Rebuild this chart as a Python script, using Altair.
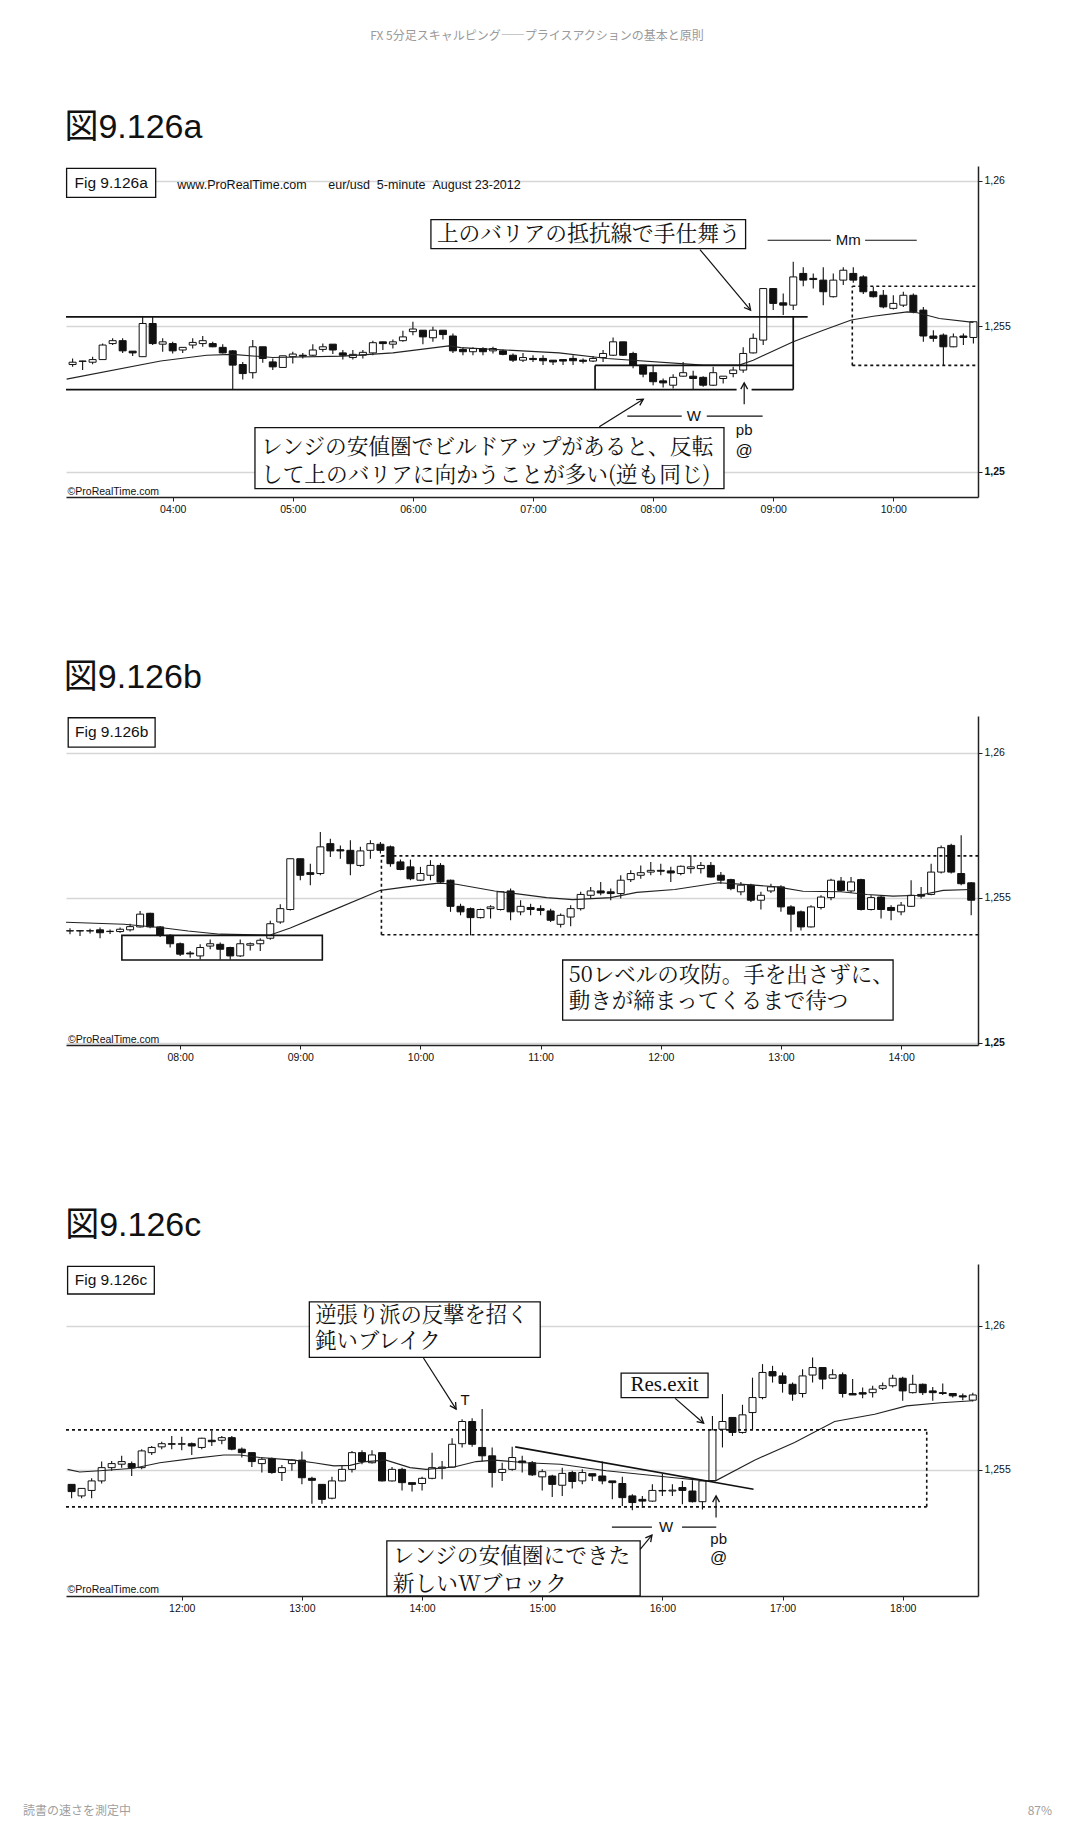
import altair as alt
import pandas as pd

INK = "#111111"
SANS = "Liberation Sans, Arial, Noto Sans CJK JP"
JP = "Noto Serif CJK JP, Noto Sans CJK JP"
SERIF = "Liberation Serif, DejaVu Serif"

HEADER = "FX 5分足スキャルピング――プライスアクションの基本と原則"
FOOTER_LEFT = "読書の速さを測定中"
FOOTER_RIGHT = "87%"

# ---------------- panel a : 03:10 - 10:40 ----------------
a_time = list(range(190, 645, 5))
a_open = [1.25368, 1.25380, 1.25376, 1.25385, 1.25440, 1.25450, 1.25414, 1.25395, 1.25509, 1.25438,
          1.25440, 1.25418, 1.25435, 1.25440, 1.25440, 1.25427, 1.25415, 1.25368, 1.25340, 1.25429,
          1.25377, 1.25358, 1.25395, 1.25400, 1.25400, 1.25420, 1.25438, 1.25408, 1.25392, 1.25400,
          1.25408, 1.25446, 1.25438, 1.25450, 1.25481, 1.25486, 1.25460, 1.25486, 1.25466, 1.25420,
          1.25412, 1.25423, 1.25415, 1.25415, 1.25400, 1.25383, 1.25389, 1.25389, 1.25383, 1.25385,
          1.25389, 1.25383, 1.25380, 1.25392, 1.25400, 1.25446, 1.25406, 1.25366, 1.25340, 1.25312,
          1.25297, 1.25328, 1.25328, 1.25324, 1.25297, 1.25320, 1.25337, 1.25349, 1.25408, 1.25452,
          1.25629, 1.25580, 1.25572, 1.25681, 1.25664, 1.25658, 1.25601, 1.25658, 1.25681, 1.25669,
          1.25618, 1.25606, 1.25561, 1.25572, 1.25606, 1.25555, 1.25466, 1.25469, 1.25429, 1.25466,
          1.25461]
a_high = [1.25389, 1.25381, 1.25395, 1.25440, 1.25458, 1.25458, 1.25414, 1.25532, 1.25532, 1.25458,
          1.25446, 1.25427, 1.25458, 1.25466, 1.25446, 1.25438, 1.25418, 1.25377, 1.25452, 1.25429,
          1.25389, 1.25398, 1.25412, 1.25408, 1.25438, 1.25440, 1.25438, 1.25418, 1.25418, 1.25418,
          1.25450, 1.25446, 1.25454, 1.25484, 1.25515, 1.25486, 1.25498, 1.25486, 1.25475, 1.25427,
          1.25427, 1.25427, 1.25429, 1.25420, 1.25406, 1.25408, 1.25400, 1.25400, 1.25383, 1.25385,
          1.25400, 1.25389, 1.25397, 1.25418, 1.25461, 1.25446, 1.25412, 1.25366, 1.25366, 1.25320,
          1.25335, 1.25377, 1.25347, 1.25328, 1.25360, 1.25328, 1.25360, 1.25427, 1.25475, 1.25629,
          1.25629, 1.25612, 1.25721, 1.25702, 1.25681, 1.25702, 1.25681, 1.25702, 1.25702, 1.25675,
          1.25635, 1.25624, 1.25606, 1.25618, 1.25612, 1.25566, 1.25486, 1.25475, 1.25475, 1.25475,
          1.25515]
a_low = [1.25360, 1.25349, 1.25369, 1.25385, 1.25435, 1.25408, 1.25397, 1.25395, 1.25435, 1.25412,
         1.25406, 1.25408, 1.25423, 1.25429, 1.25427, 1.25406, 1.25282, 1.25317, 1.25320, 1.25374,
         1.25349, 1.25358, 1.25372, 1.25389, 1.25397, 1.25412, 1.25404, 1.25385, 1.25385, 1.25389,
         1.25400, 1.25418, 1.25423, 1.25446, 1.25469, 1.25438, 1.25446, 1.25454, 1.25408, 1.25400,
         1.25400, 1.25400, 1.25406, 1.25400, 1.25377, 1.25377, 1.25377, 1.25366, 1.25366, 1.25366,
         1.25366, 1.25372, 1.25377, 1.25377, 1.25397, 1.25397, 1.25355, 1.25324, 1.25297, 1.25289,
         1.25286, 1.25326, 1.25282, 1.25292, 1.25294, 1.25303, 1.25324, 1.25340, 1.25406, 1.25435,
         1.25555, 1.25538, 1.25555, 1.25637, 1.25629, 1.25572, 1.25598, 1.25641, 1.25649, 1.25610,
         1.25598, 1.25561, 1.25557, 1.25566, 1.25544, 1.25446, 1.25446, 1.25366, 1.25427, 1.25435,
         1.25440]
a_close = [1.25376, 1.25379, 1.25385, 1.25435, 1.25450, 1.25415, 1.25408, 1.25509, 1.25440, 1.25446,
           1.25415, 1.25427, 1.25444, 1.25450, 1.25429, 1.25408, 1.25366, 1.25337, 1.25429, 1.25389,
           1.25360, 1.25398, 1.25404, 1.25397, 1.25418, 1.25429, 1.25418, 1.25400, 1.25403, 1.25410,
           1.25443, 1.25440, 1.25446, 1.25463, 1.25490, 1.25463, 1.25486, 1.25471, 1.25415, 1.25412,
           1.25423, 1.25412, 1.25423, 1.25403, 1.25383, 1.25392, 1.25385, 1.25381, 1.25377, 1.25380,
           1.25381, 1.25379, 1.25389, 1.25406, 1.25446, 1.25400, 1.25366, 1.25335, 1.25309, 1.25305,
           1.25324, 1.25340, 1.25320, 1.25297, 1.25340, 1.25328, 1.25349, 1.25406, 1.25458, 1.25629,
           1.25578, 1.25572, 1.25669, 1.25658, 1.25660, 1.25618, 1.25658, 1.25692, 1.25658, 1.25618,
           1.25601, 1.25566, 1.25578, 1.25606, 1.25549, 1.25466, 1.25458, 1.25429, 1.25463, 1.25461,
           1.25515]
a_ma_t = [187, 234, 257, 270, 290, 325, 350, 378, 384, 433, 457, 505, 523, 530, 550, 565, 579, 590,
          607, 612, 623, 640]
a_ma_v = [1.25318, 1.25380, 1.25400, 1.25403, 1.25392, 1.25397, 1.25408, 1.25432, 1.25426, 1.25408,
          1.25389, 1.25366, 1.25366, 1.25383, 1.25446, 1.25486, 1.25521, 1.25534, 1.25549, 1.25546,
          1.25526, 1.25513]

# ---------------- panel b : 07:05 - 14:35 ----------------
b_time = list(range(425, 880, 5))
b_open = [1.25385, 1.25386, 1.25385, 1.25389, 1.25383, 1.25383, 1.25389, 1.25399, 1.25446, 1.25399,
          1.25370, 1.25341, 1.25309, 1.25299, 1.25333, 1.25339, 1.25328, 1.25299, 1.25336, 1.25341,
          1.25360, 1.25416, 1.25459, 1.25634, 1.25586, 1.25583, 1.25686, 1.25665, 1.25663, 1.25611,
          1.25663, 1.25684, 1.25675, 1.25623, 1.25606, 1.25560, 1.25577, 1.25611, 1.25560, 1.25470,
          1.25462, 1.25431, 1.25462, 1.25459, 1.25523, 1.25451, 1.25466, 1.25462, 1.25454, 1.25408,
          1.25433, 1.25462, 1.25508, 1.25523, 1.25520, 1.25514, 1.25562, 1.25577, 1.25588, 1.25594,
          1.25592, 1.25583, 1.25600, 1.25600, 1.25611, 1.25577, 1.25562, 1.25520, 1.25543, 1.25491,
          1.25523, 1.25537, 1.25468, 1.25451, 1.25399, 1.25466, 1.25500, 1.25557, 1.25523, 1.25562,
          1.25459, 1.25502, 1.25466, 1.25451, 1.25470, 1.25511, 1.25511, 1.25588, 1.25680, 1.25583,
          1.25551]
b_high = [1.25394, 1.25386, 1.25393, 1.25397, 1.25390, 1.25397, 1.25410, 1.25454, 1.25448, 1.25402,
          1.25374, 1.25345, 1.25316, 1.25339, 1.25356, 1.25345, 1.25331, 1.25356, 1.25345, 1.25360,
          1.25420, 1.25477, 1.25634, 1.25634, 1.25617, 1.25726, 1.25703, 1.25680, 1.25698, 1.25675,
          1.25698, 1.25692, 1.25680, 1.25631, 1.25631, 1.25606, 1.25629, 1.25619, 1.25562, 1.25479,
          1.25466, 1.25462, 1.25474, 1.25523, 1.25531, 1.25491, 1.25479, 1.25474, 1.25462, 1.25445,
          1.25474, 1.25520, 1.25537, 1.25554, 1.25531, 1.25577, 1.25594, 1.25611, 1.25623, 1.25617,
          1.25606, 1.25611, 1.25646, 1.25623, 1.25623, 1.25588, 1.25565, 1.25554, 1.25548, 1.25520,
          1.25548, 1.25543, 1.25474, 1.25456, 1.25474, 1.25508, 1.25565, 1.25571, 1.25571, 1.25565,
          1.25508, 1.25508, 1.25474, 1.25485, 1.25560, 1.25537, 1.25617, 1.25680, 1.25686, 1.25715,
          1.25554]
b_low = [1.25374, 1.25368, 1.25376, 1.25360, 1.25375, 1.25379, 1.25383, 1.25397, 1.25394, 1.25364,
         1.25328, 1.25299, 1.25293, 1.25287, 1.25322, 1.25287, 1.25287, 1.25295, 1.25318, 1.25316,
         1.25355, 1.25410, 1.25456, 1.25560, 1.25543, 1.25577, 1.25640, 1.25634, 1.25577, 1.25606,
         1.25634, 1.25652, 1.25606, 1.25594, 1.25560, 1.25557, 1.25560, 1.25548, 1.25451, 1.25439,
         1.25370, 1.25428, 1.25428, 1.25456, 1.25422, 1.25439, 1.25439, 1.25439, 1.25416, 1.25397,
         1.25401, 1.25456, 1.25497, 1.25508, 1.25491, 1.25497, 1.25554, 1.25565, 1.25577, 1.25577,
         1.25554, 1.25577, 1.25583, 1.25583, 1.25569, 1.25548, 1.25525, 1.25508, 1.25485, 1.25459,
         1.25516, 1.25451, 1.25382, 1.25387, 1.25397, 1.25459, 1.25491, 1.25520, 1.25516, 1.25456,
         1.25456, 1.25428, 1.25422, 1.25439, 1.25468, 1.25497, 1.25508, 1.25583, 1.25583, 1.25543,
         1.25439]
b_close = [1.25386, 1.25385, 1.25386, 1.25379, 1.25384, 1.25391, 1.25400, 1.25443, 1.25399, 1.25370,
           1.25341, 1.25305, 1.25306, 1.25328, 1.25341, 1.25322, 1.25299, 1.25341, 1.25341, 1.25353,
           1.25410, 1.25462, 1.25634, 1.25577, 1.25580, 1.25675, 1.25661, 1.25661, 1.25617, 1.25661,
           1.25686, 1.25663, 1.25617, 1.25597, 1.25565, 1.25583, 1.25611, 1.25554, 1.25470, 1.25451,
           1.25431, 1.25459, 1.25468, 1.25520, 1.25451, 1.25470, 1.25459, 1.25456, 1.25422, 1.25439,
           1.25462, 1.25511, 1.25523, 1.25516, 1.25514, 1.25560, 1.25583, 1.25586, 1.25594, 1.25591,
           1.25585, 1.25608, 1.25606, 1.25611, 1.25571, 1.25560, 1.25531, 1.25543, 1.25491, 1.25508,
           1.25537, 1.25468, 1.25443, 1.25399, 1.25468, 1.25502, 1.25560, 1.25525, 1.25554, 1.25459,
           1.25500, 1.25459, 1.25456, 1.25474, 1.25508, 1.25505, 1.25588, 1.25672, 1.25588, 1.25548,
           1.25491]
b_ma_t = [423, 452, 471, 484, 500, 525, 535, 554, 580, 593, 609, 618, 637, 663, 676, 695, 708, 727,
          749, 765, 778, 791, 810, 823, 836, 849, 861, 875]
b_ma_v = [1.25415, 1.25408, 1.25396, 1.25385, 1.25374, 1.25371, 1.25395, 1.25450, 1.25525, 1.25537,
          1.25550, 1.25546, 1.25523, 1.25500, 1.25493, 1.25500, 1.25518, 1.25528, 1.25551, 1.25544,
          1.25537, 1.25522, 1.25520, 1.25511, 1.25505, 1.25508, 1.25525, 1.25528]

# ---------------- panel c : 11:05 - 18:35 ----------------
c_time = list(range(665, 1120, 5))
c_open = [1.25450, 1.25410, 1.25429, 1.25462, 1.25508, 1.25520, 1.25522, 1.25508, 1.25560, 1.25580,
          1.25591, 1.25589, 1.25591, 1.25578, 1.25603, 1.25603, 1.25612, 1.25572, 1.25560, 1.25522,
          1.25540, 1.25491, 1.25522, 1.25534, 1.25471, 1.25450, 1.25402, 1.25462, 1.25502, 1.25560,
          1.25525, 1.25560, 1.25462, 1.25502, 1.25456, 1.25453, 1.25471, 1.25506, 1.25510, 1.25591,
          1.25668, 1.25578, 1.25549, 1.25491, 1.25502, 1.25531, 1.25525, 1.25476, 1.25479, 1.25447,
          1.25491, 1.25462, 1.25487, 1.25479, 1.25462, 1.25453, 1.25410, 1.25398, 1.25392, 1.25429,
          1.25427, 1.25439, 1.25427, 1.25390, 1.25462, 1.25641, 1.25682, 1.25630, 1.25699, 1.25751,
          1.25841, 1.25826, 1.25797, 1.25765, 1.25829, 1.25855, 1.25818, 1.25830, 1.25765, 1.25768,
          1.25768, 1.25783, 1.25792, 1.25818, 1.25768, 1.25797, 1.25774, 1.25768, 1.25765, 1.25757,
          1.25742]
c_high = [1.25450, 1.25436, 1.25471, 1.25529, 1.25531, 1.25549, 1.25529, 1.25572, 1.25583, 1.25598,
          1.25618, 1.25615, 1.25595, 1.25612, 1.25635, 1.25618, 1.25618, 1.25578, 1.25560, 1.25545,
          1.25543, 1.25517, 1.25537, 1.25564, 1.25476, 1.25450, 1.25476, 1.25514, 1.25566, 1.25568,
          1.25568, 1.25560, 1.25510, 1.25508, 1.25456, 1.25476, 1.25560, 1.25531, 1.25610, 1.25676,
          1.25679, 1.25711, 1.25578, 1.25525, 1.25580, 1.25549, 1.25531, 1.25502, 1.25483, 1.25508,
          1.25497, 1.25502, 1.25487, 1.25529, 1.25462, 1.25476, 1.25416, 1.25410, 1.25450, 1.25487,
          1.25450, 1.25462, 1.25464, 1.25464, 1.25687, 1.25763, 1.25682, 1.25726, 1.25820, 1.25867,
          1.25861, 1.25838, 1.25803, 1.25849, 1.25890, 1.25855, 1.25849, 1.25838, 1.25815, 1.25786,
          1.25792, 1.25803, 1.25830, 1.25823, 1.25830, 1.25800, 1.25788, 1.25800, 1.25765, 1.25765,
          1.25768]
c_low = [1.25402, 1.25402, 1.25402, 1.25453, 1.25497, 1.25508, 1.25479, 1.25502, 1.25552, 1.25572,
         1.25572, 1.25568, 1.25552, 1.25572, 1.25583, 1.25589, 1.25568, 1.25543, 1.25510, 1.25491,
         1.25487, 1.25462, 1.25497, 1.25450, 1.25383, 1.25383, 1.25398, 1.25460, 1.25491, 1.25520,
         1.25522, 1.25460, 1.25460, 1.25429, 1.25425, 1.25429, 1.25468, 1.25468, 1.25508, 1.25578,
         1.25580, 1.25529, 1.25439, 1.25462, 1.25497, 1.25491, 1.25479, 1.25429, 1.25406, 1.25410,
         1.25436, 1.25450, 1.25462, 1.25450, 1.25398, 1.25375, 1.25360, 1.25369, 1.25390, 1.25410,
         1.25410, 1.25381, 1.25387, 1.25363, 1.25460, 1.25578, 1.25618, 1.25626, 1.25641, 1.25745,
         1.25803, 1.25768, 1.25740, 1.25751, 1.25803, 1.25780, 1.25815, 1.25751, 1.25760, 1.25749,
         1.25751, 1.25777, 1.25786, 1.25740, 1.25765, 1.25760, 1.25740, 1.25760, 1.25751, 1.25742,
         1.25737]
c_close = [1.25425, 1.25436, 1.25462, 1.25508, 1.25522, 1.25529, 1.25508, 1.25566, 1.25578, 1.25591,
           1.25589, 1.25591, 1.25583, 1.25610, 1.25598, 1.25612, 1.25572, 1.25560, 1.25529, 1.25537,
           1.25491, 1.25508, 1.25534, 1.25473, 1.25464, 1.25398, 1.25462, 1.25502, 1.25560, 1.25529,
           1.25552, 1.25462, 1.25502, 1.25456, 1.25450, 1.25471, 1.25508, 1.25510, 1.25589, 1.25668,
           1.25589, 1.25549, 1.25491, 1.25502, 1.25543, 1.25525, 1.25483, 1.25494, 1.25450, 1.25488,
           1.25460, 1.25491, 1.25479, 1.25462, 1.25456, 1.25404, 1.25387, 1.25392, 1.25429, 1.25427,
           1.25430, 1.25429, 1.25390, 1.25462, 1.25639, 1.25668, 1.25630, 1.25691, 1.25751, 1.25838,
           1.25826, 1.25800, 1.25763, 1.25826, 1.25855, 1.25815, 1.25830, 1.25765, 1.25760, 1.25763,
           1.25780, 1.25792, 1.25818, 1.25774, 1.25797, 1.25768, 1.25768, 1.25765, 1.25757, 1.25753,
           1.25760]
c_ma_t = [663, 669, 679, 696, 709, 726, 741, 749, 759, 776, 786, 796, 804, 812, 822, 834, 842, 856,
          867, 876, 892, 909, 932, 966, 982, 987, 1006, 1026, 1046, 1066, 1082, 1099, 1115]
c_ma_v = [1.25502, 1.25493, 1.25497, 1.25506, 1.25525, 1.25540, 1.25552, 1.25552, 1.25543, 1.25534,
          1.25525, 1.25514, 1.25516, 1.25529, 1.25534, 1.25508, 1.25502, 1.25510, 1.25529, 1.25534,
          1.25525, 1.25520, 1.25497, 1.25473, 1.25462, 1.25464, 1.25534, 1.25595, 1.25668, 1.25693,
          1.25722, 1.25733, 1.25740]

# ---------------- annotations (data coordinates: minutes, price) ----------------
A = dict(
    title="図9.126a", xdom=[186.7, 642.3], ydom=[1.24913, 1.26050], height=331,
    xticks=[240, 300, 360, 420, 480, 540, 600], yticks=[1.25, 1.255, 1.26],
    frame=[(186.7, 557.2, 1.25532, 1.25532), (186.7, 521.7, 1.25282, 1.25282),
           (529.2, 550.0, 1.25282, 1.25282), (550.0, 550.0, 1.25282, 1.25532),
           (451.0, 550.0, 1.25365, 1.25365), (451.0, 451.0, 1.25282, 1.25365)],
    thin=[(537.2, 568.8, 1.25795, 1.25795), (585.9, 611.7, 1.25795, 1.25795),
          (467.1, 494.3, 1.25191, 1.25191), (506.8, 534.7, 1.25191, 1.25191)],
    dotted=[(579.5, 642.3, 1.25637, 1.25637), (579.5, 642.3, 1.25365, 1.25365),
            (579.5, 579.5, 1.25365, 1.25637)],
    open_boxes=[],
    boxes=[(369.0, 526.2, 1.25766, 1.25866), (281.1, 515.4, 1.24942, 1.25151),
           (187.0, 231.5, 1.25942, 1.26042)],
    arrows=[(503.4, 1.25763, 528.7, 1.25555, 140), (453.1, 1.25154, 475.1, 1.25249, 58),
            (525.5, 1.25232, 525.5, 1.25305, 0)],
    jp=[(369.0, 1.25816, "上のバリアの抵抗線で手仕舞う", 21.7, 28),
        (281.1, 1.25086, "レンジの安値圏でビルドアップがあると、反転\nして上のバリアに向かうことが多い(逆も同じ)", 21.7, 28.3)],
    labels=[(577.5, 1.25795, "Mm", 15), (500.4, 1.25191, "W", 15), (525.5, 1.25143, "pb", 15),
            (525.5, 1.25072, "@", 17)],
    fig=(209.25, 1.25992, "Fig 9.126a"),
    site=[(242.3, 1.25986, "www.ProRealTime.com"),
          (317.7, 1.25986, "eur/usd\u00a0\u00a05-minute\u00a0\u00a0August 23-2012")],
    copy=(187.5, 1.24921),
    serif=[],
)
B = dict(
    title="図9.126b", xdom=[423.0, 878.4], ydom=[1.24992, 1.26126], height=329,
    xticks=[480, 540, 600, 660, 720, 780, 840], yticks=[1.25, 1.255, 1.26],
    frame=[], thin=[],
    dotted=[(580.5, 878.4, 1.25644, 1.25644), (580.5, 878.4, 1.25372, 1.25372),
            (580.5, 580.5, 1.25372, 1.25644)],
    open_boxes=[(450.9, 551.0, 1.25285, 1.25370)],
    boxes=[(671.0, 836.0, 1.25078, 1.25285), (424.1, 467.5, 1.26019, 1.26120)],
    arrows=[],
    jp=[(671.0, 1.25229, "50レベルの攻防。手を出さずに、\n動きが締まってくるまで待つ", 21.5, 26)],
    labels=[],
    fig=(445.8, 1.26070, "Fig 9.126b"),
    site=[],
    copy=(424.0, 1.24999),
    serif=[],
)
C = dict(
    title="図9.126c", xdom=[662.2, 1117.6], ydom=[1.25063, 1.26214], height=332,
    xticks=[720, 780, 840, 900, 960, 1020, 1080], yticks=[1.255, 1.26],
    frame=[(886.5, 1005.5, 1.25580, 1.25433)],
    thin=[(934.8, 954.8, 1.25302, 1.25302), (969.8, 986.9, 1.25302, 1.25302)],
    dotted=[(662.2, 1092.0, 1.25639, 1.25639), (662.2, 1092.0, 1.25372, 1.25372),
            (1092.0, 1092.0, 1.25372, 1.25639)],
    open_boxes=[],
    boxes=[(783.7, 899.0, 1.25890, 1.26083), (939.4, 982.8, 1.25751, 1.25836),
           (822.4, 948.9, 1.25063, 1.25254), (663.0, 706.3, 1.26110, 1.26206)],
    arrows=[(840.7, 1.25888, 857.0, 1.25711, 147), (966.4, 1.25748, 980.6, 1.25662, 131),
            (948.9, 1.25225, 954.8, 1.25274, 39), (986.8, 1.25335, 986.8, 1.25410, 0)],
    jp=[(783.7, 1.26032, "逆張り派の反撃を招く\n鈍いブレイク", 21.3, 25.5),
        (822.4, 1.25201, "レンジの安値圏にできた\n新しいWブロック", 21.7, 28)],
    labels=[(961.9, 1.25302, "W", 15), (988.1, 1.25259, "pb", 15), (988.1, 1.25196, "@", 17),
            (861.5, 1.25743, "T", 15)],
    fig=(684.65, 1.26158, "Fig 9.126c"),
    site=[],
    copy=(663.0, 1.25073),
    serif=[(961.1, 1.257935, "Res.exit")],
)


def seg_df(rows):
    return pd.DataFrame(rows, columns=["x", "x2", "y", "y2"])


def build_panel(P, times, o, h, l, c, ma_t, ma_v):
    xs = alt.Scale(domain=P["xdom"], nice=False, zero=False, padding=0)
    ys = alt.Scale(domain=P["ydom"], nice=False, zero=False, padding=0)
    xax = alt.Axis(values=P["xticks"], title=None, grid=False, tickSize=4, tickColor="#222",
                   domainColor="#222", domainWidth=1.5, labelFontSize=10.5, labelColor="#111",
                   labelFont=SANS, labelPadding=3,
                   labelExpr="(floor(datum.value/60) < 10 ? '0' : '') + floor(datum.value/60) + ':00'")
    yax = alt.Axis(orient="right", values=P["yticks"], title=None, grid=True, gridColor="#d6d6d6",
                   gridWidth=1.5, tickSize=4, tickColor="#222", domainColor="#222", domainWidth=1.5,
                   labelFontSize=10.5, labelColor="#111", labelFont=SANS, labelPadding=2,
                   labelFontWeight={"condition": {"test": "abs(datum.value - 1.25) < 0.00001",
                                                  "value": "bold"}, "value": "normal"},
                   labelExpr="replace(format(datum.value, '.3~f'), '.', ',')")

    def X(f):
        return alt.X(f + ":Q", scale=xs, axis=xax)

    def Y(f):
        return alt.Y(f + ":Q", scale=ys, axis=yax)

    layers = []
    cdf = pd.DataFrame(dict(t=times, o=o, h=h, l=l, c=c))
    layers.append(alt.Chart(cdf).mark_rule(color=INK, strokeWidth=1.1).encode(
        x=X("t"), y=Y("l"), y2=alt.Y2("h")))
    layers.append(alt.Chart(cdf).mark_bar(size=7, stroke=INK, strokeWidth=1).encode(
        x=X("t"), y=Y("o"), y2=alt.Y2("c"),
        fill=alt.condition("datum.c >= datum.o", alt.value("white"), alt.value(INK))))
    layers.append(alt.Chart(pd.DataFrame(dict(t=ma_t, v=ma_v))).mark_line(
        color="#222", strokeWidth=1.1).encode(x=X("t"), y=Y("v")))
    if P["frame"]:
        layers.append(alt.Chart(seg_df(P["frame"])).mark_rule(color=INK, strokeWidth=1.7).encode(
            x=X("x"), x2=alt.X2("x2"), y=Y("y"), y2=alt.Y2("y2")))
    if P["thin"]:
        layers.append(alt.Chart(seg_df(P["thin"])).mark_rule(color=INK, strokeWidth=1.2).encode(
            x=X("x"), x2=alt.X2("x2"), y=Y("y"), y2=alt.Y2("y2")))
    if P["dotted"]:
        layers.append(alt.Chart(seg_df(P["dotted"])).mark_rule(
            color=INK, strokeWidth=1.6, strokeDash=[3, 3]).encode(
            x=X("x"), x2=alt.X2("x2"), y=Y("y"), y2=alt.Y2("y2")))
    if P["open_boxes"]:
        layers.append(alt.Chart(seg_df(P["open_boxes"])).mark_rect(
            fillOpacity=0, stroke=INK, strokeWidth=1.6).encode(
            x=X("x"), x2=alt.X2("x2"), y=Y("y"), y2=alt.Y2("y2")))
    if P["boxes"]:
        layers.append(alt.Chart(seg_df(P["boxes"])).mark_rect(
            fill="white", stroke=INK, strokeWidth=1.3).encode(
            x=X("x"), x2=alt.X2("x2"), y=Y("y"), y2=alt.Y2("y2")))
    if P["arrows"]:
        adf = pd.DataFrame(P["arrows"], columns=["x", "y", "x2", "y2", "ang"])
        layers.append(alt.Chart(adf).mark_rule(color=INK, strokeWidth=1.2).encode(
            x=X("x"), x2=alt.X2("x2"), y=Y("y"), y2=alt.Y2("y2")))
        layers.append(alt.Chart(adf).mark_point(
            shape="M-0.6,1.1L0,0L0.6,1.1", filled=False, size=130, color=INK,
            strokeWidth=1.3, opacity=1).encode(
            x=X("x2"), y=Y("y2"), angle=alt.Angle("ang:Q", scale=None)))
    for (x, y, txt, fs, lh) in P["jp"]:
        layers.append(alt.Chart(pd.DataFrame(dict(x=[x], y=[y], s=[txt]))).mark_text(
            font=JP, fontSize=fs, lineHeight=lh, lineBreak="\n", align="left", baseline="middle",
            dx=6, color=INK).encode(x=X("x"), y=Y("y"), text="s:N"))
    for (x, y, txt, fs) in P["labels"]:
        layers.append(alt.Chart(pd.DataFrame(dict(x=[x], y=[y], s=[txt]))).mark_text(
            font=SANS, fontSize=fs, align="center", baseline="middle", color=INK).encode(
            x=X("x"), y=Y("y"), text="s:N"))
    for (x, y, txt) in P["serif"]:
        layers.append(alt.Chart(pd.DataFrame(dict(x=[x], y=[y], s=[txt]))).mark_text(
            font=SERIF, fontSize=21, align="center", baseline="middle", color=INK).encode(
            x=X("x"), y=Y("y"), text="s:N"))
    fx, fy, ftxt = P["fig"]
    layers.append(alt.Chart(pd.DataFrame(dict(x=[fx], y=[fy], s=[ftxt]))).mark_text(
        font=SANS, fontSize=15.5, align="center", baseline="middle", color=INK).encode(
        x=X("x"), y=Y("y"), text="s:N"))
    for (x, y, txt) in P["site"]:
        layers.append(alt.Chart(pd.DataFrame(dict(x=[x], y=[y], s=[txt]))).mark_text(
            font=SANS, fontSize=12.5, align="left", baseline="middle", color=INK).encode(
            x=X("x"), y=Y("y"), text="s:N"))
    cx, cy = P["copy"]
    layers.append(alt.Chart(pd.DataFrame(dict(x=[cx], y=[cy], s=["©ProRealTime.com"]))).mark_text(
        font=SANS, fontSize=10.5, align="left", baseline="alphabetic", color=INK).encode(
        x=X("x"), y=Y("y"), text="s:N"))

    return alt.layer(*layers).properties(
        width=912, height=P["height"],
        title=alt.TitleParams(P["title"], anchor="start", fontSize=34, font=SANS,
                              fontWeight="normal", color=INK, offset=-6, baseline="alphabetic"))


pa = build_panel(A, a_time, a_open, a_high, a_low, a_close, a_ma_t, a_ma_v)
pb = build_panel(B, b_time, b_open, b_high, b_low, b_close, b_ma_t, b_ma_v)
pc = build_panel(C, c_time, c_open, c_high, c_low, c_close, c_ma_t, c_ma_v)

header = alt.Chart(pd.DataFrame(dict(s=[HEADER]))).mark_text(
    font="Noto Sans CJK JP", fontSize=12, color="#9a9a9a", align="center", baseline="middle").encode(
    x=alt.value(471), y=alt.value(6), text="s:N").properties(width=912, height=12)

foot_l = alt.Chart(pd.DataFrame(dict(s=[FOOTER_LEFT]))).mark_text(
    font="Noto Sans CJK JP", fontSize=12, color="#a0a0a0", align="left", baseline="middle").encode(
    x=alt.value(-43), y=alt.value(6), text="s:N")
foot_r = alt.Chart(pd.DataFrame(dict(s=[FOOTER_RIGHT]))).mark_text(
    font="Noto Sans CJK JP", fontSize=12, color="#a0a0a0", align="right", baseline="middle").encode(
    x=alt.value(986), y=alt.value(6), text="s:N")
footer = alt.layer(foot_l, foot_r).properties(width=912, height=12)

chart = alt.vconcat(
    alt.vconcat(header, alt.vconcat(pa, pb, pc, spacing=146), spacing=69),
    footer, spacing=191,
).properties(
    padding={"left": 23, "top": 30, "right": 5, "bottom": 5}, background="white"
).configure_view(strokeWidth=0)

chart.save("out.html", embed_options={"renderer": "svg", "actions": False})
